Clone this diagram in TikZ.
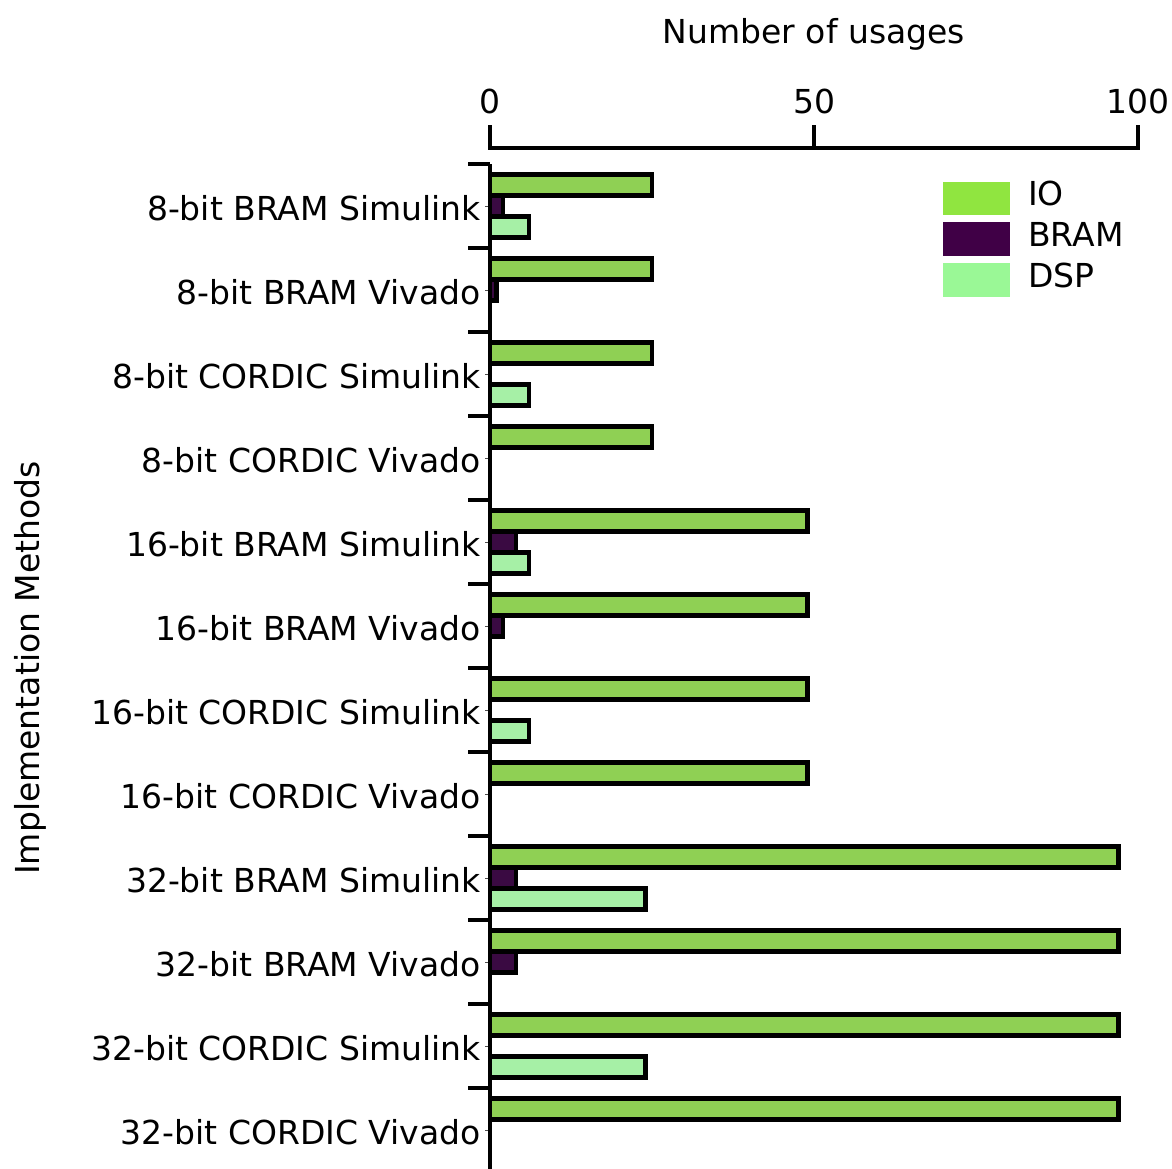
\documentclass[tikz,border=0pt]{standalone}
\usepackage{fontspec}
\setmainfont{DejaVu Sans}
\usetikzlibrary{positioning}
\definecolor{iobar}{RGB}{143,208,84}
\definecolor{brambar}{RGB}{58,10,66}
\definecolor{dspbar}{RGB}{166,240,166}
\definecolor{iokey}{RGB}{144,229,64}
\definecolor{bramkey}{RGB}{64,0,70}
\definecolor{dspkey}{RGB}{154,248,150}

\begin{document}
\begin{tikzpicture}[x=1pt,y=-1pt,
  txt/.style={font=\fontsize{33}{40}\selectfont,inner sep=0pt},
  catlabel/.style={txt,anchor=base east},
  ticklabel/.style={txt,anchor=base},
  keylabel/.style={txt,anchor=base west},
  axisline/.style={line width=4pt},
  minortick/.style={line width=1pt,black!70},
  bar/.style={draw=black,line width=4.2pt}]
\useasboundingbox (0,0) rectangle (1172,1168);
\node[ticklabel] (xtitle) at (814,43) {Number of usages};
\node[txt,anchor=base,rotate=90] (ytitle) at (39,668) {Implementation Methods};
\node[ticklabel] (t0) at (490,113) {0};
\node[ticklabel] (t50) at (814,113) {50};
\node[ticklabel] (t100) at (1138,113) {100};
\draw[axisline] (490,125) -- (490,148) -- (1138,148) -- (1138,125);
\draw[axisline] (814,148) -- (814,125);
\foreach \nm/\io/\bram/\dsp [count=\i from 0] in {
  8-bit BRAM Simulink/25/2/6, 8-bit BRAM Vivado/25/1/0,
  8-bit CORDIC Simulink/25/0/6, 8-bit CORDIC Vivado/25/0/0,
  16-bit BRAM Simulink/49/4/6, 16-bit BRAM Vivado/49/2/0,
  16-bit CORDIC Simulink/49/0/6, 16-bit CORDIC Vivado/49/0/0,
  32-bit BRAM Simulink/97/4/24, 32-bit BRAM Vivado/97/4/0,
  32-bit CORDIC Simulink/97/0/24, 32-bit CORDIC Vivado/97/0/0}{
  \pgfmathsetmacro{\c}{206+84*\i}
  \draw[axisline] (468,\c-42) -- (490,\c-42);
  \draw[minortick] (485,\c) -- (490,\c);
  \node[catlabel] (cat\i) at (481,\c+14) {\nm};
  \draw[bar,fill=iobar] (490,\c-31.5) rectangle ++(6.48*\io,21);
  \ifnum\bram>0 \draw[bar,fill=brambar] (490,\c-10.5) rectangle ++(6.48*\bram,21); \fi
  \ifnum\dsp>0 \draw[bar,fill=dspbar] (490,\c+10.5) rectangle ++(6.48*\dsp,21); \fi
}
\draw[axisline] (490,164) -- (490,1172);
% legend
\fill[iokey] (943,182) rectangle (1010,215);
\fill[bramkey] (943,222) rectangle (1010,256);
\fill[dspkey] (943,263) rectangle (1010,297);
\node[keylabel] (kio) at (1028,205) {IO};
\node[keylabel] (kbram) at (1028,246) {BRAM};
\node[keylabel] (kdsp) at (1028,287) {DSP};
\end{tikzpicture}
\end{document}
